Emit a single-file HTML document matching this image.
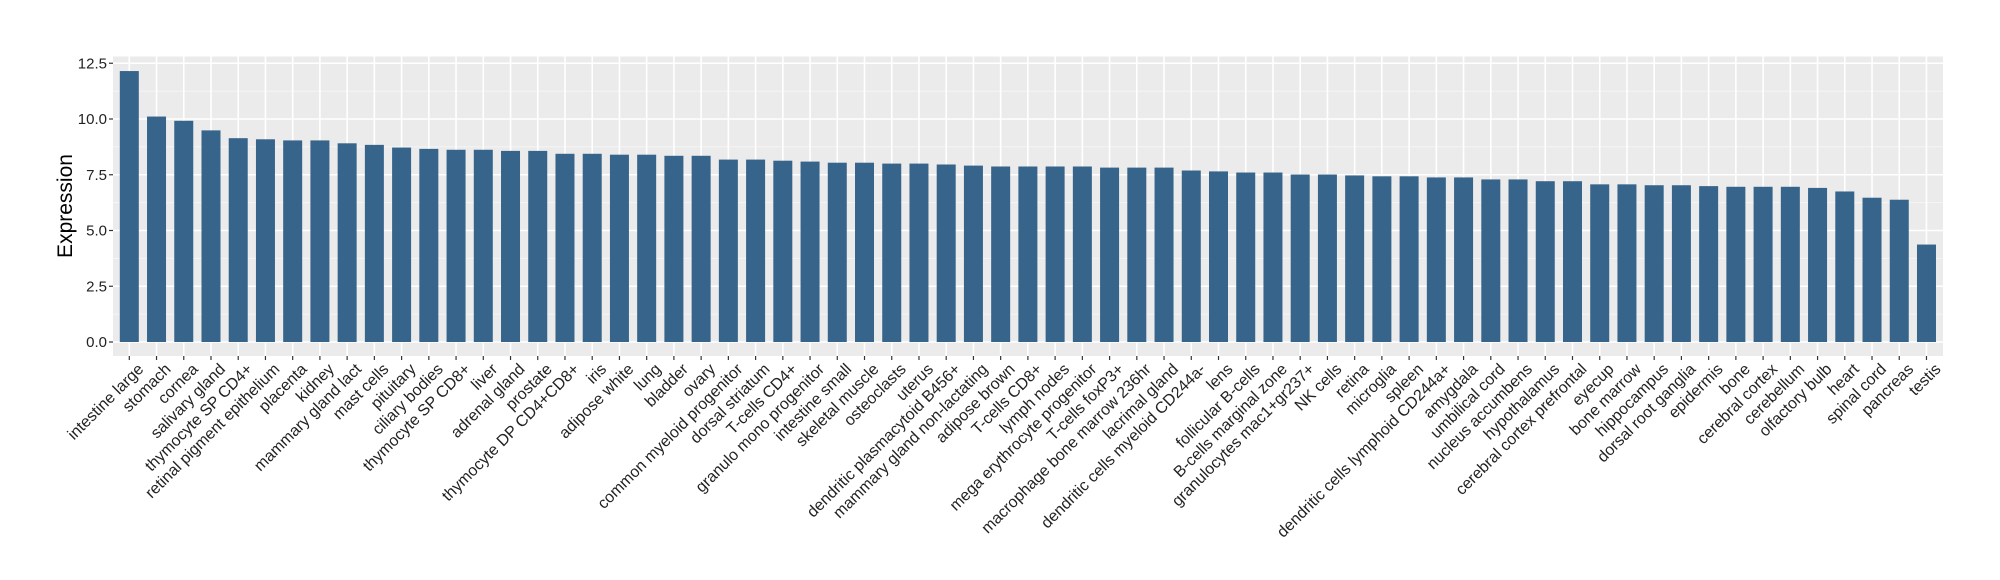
<!DOCTYPE html>
<html><head><meta charset="utf-8"><style>body{margin:0;background:#fff}svg{display:block}</style></head><body>
<svg id="s" width="2000" height="580" xmlns="http://www.w3.org/2000/svg" font-family="Liberation Sans, Arial, sans-serif"></svg>
<script>
const names=["intestine large","stomach","cornea","salivary gland","thymocyte SP CD4+","retinal pigment epithelium","placenta","kidney","mammary gland  lact","mast cells","pituitary","ciliary bodies","thymocyte SP CD8+","liver","adrenal gland","prostate","thymocyte DP CD4+CD8+","iris","adipose white","lung","bladder","ovary","common myeloid progenitor","dorsal striatum","T-cells CD4+","granulo mono progenitor","intestine small","skeletal muscle","osteoclasts","uterus","dendritic plasmacytoid B456+","mammary gland non-lactating","adipose brown","T-cells CD8+","lymph nodes","mega erythrocyte progenitor","T-cells foxP3+","macrophage bone marrow 236hr","lacrimal gland","dendritic cells myeloid CD244a-","lens","follicular B-cells","B-cells marginal zone","granulocytes mac1+gr237+","NK cells","retina","microglia","spleen","dendritic cells lymphoid CD244a+","amygdala","umbilical cord","nucleus accumbens","hypothalamus","cerebral cortex prefrontal","eyecup","bone marrow","hippocampus","dorsal root ganglia","epidermis","bone","cerebral cortex","cerebellum","olfactory bulb","heart","spinal cord","pancreas","testis"];
const vals=[12.15,10.11,9.92,9.49,9.14,9.09,9.04,9.04,8.91,8.84,8.72,8.66,8.62,8.62,8.57,8.57,8.44,8.44,8.40,8.40,8.35,8.35,8.18,8.18,8.13,8.09,8.04,8.04,8.0,8.0,7.96,7.91,7.87,7.87,7.87,7.87,7.82,7.82,7.82,7.69,7.65,7.60,7.60,7.51,7.51,7.47,7.43,7.43,7.38,7.38,7.29,7.29,7.21,7.21,7.07,7.07,7.03,7.03,6.99,6.96,6.96,6.96,6.91,6.75,6.47,6.38,4.37];
const L=113,R=1943,T=56.5,B=356,y0=342,k=22.3,x0=129.3,dx=27.23;
let s=`<rect x="${L}" y="${T}" width="${R-L}" height="${B-T}" fill="#EBEBEB"/>`;
for(let v=1.25;v<12.5;v+=2.5){const y=y0-v*k;s+=`<line x1="${L}" x2="${R}" y1="${y}" y2="${y}" stroke="#F5F5F5" stroke-width="1"/>`;}
for(let v=0;v<=12.5;v+=2.5){const y=y0-v*k;s+=`<line x1="${L}" x2="${R}" y1="${y}" y2="${y}" stroke="#fff" stroke-width="1.6"/>`;
s+=`<line x1="${L-4}" x2="${L}" y1="${y}" y2="${y}" stroke="#333" stroke-width="1.2"/>`;
s+=`<text x="${L-6}" y="${y+5}" font-size="15" text-anchor="end" fill="#222">${v.toFixed(1)}</text>`;}
names.forEach((n,i)=>{const x=x0+dx*i;s+=`<line x1="${x}" x2="${x}" y1="${T}" y2="${B}" stroke="#fff" stroke-width="1.6"/>`;
s+=`<line x1="${x}" x2="${x}" y1="${B}" y2="${B+4}" stroke="#333" stroke-width="1.2"/>`;});
names.forEach((n,i)=>{const x=x0+dx*i,h=vals[i]*k;s+=`<rect x="${x-9.5}" y="${y0-h}" width="19" height="${h}" fill="#36648B"/>`;
s+=`<text transform="translate(${x+7},${B+6}) rotate(-45)" font-size="16" text-anchor="end" dy="11.5" fill="#222">${n}</text>`;});
s+=`<text transform="translate(72,206) rotate(-90)" font-size="21" text-anchor="middle" fill="#000">Expression</text>`;
document.getElementById('s').innerHTML=s;
</script>
</body></html>
